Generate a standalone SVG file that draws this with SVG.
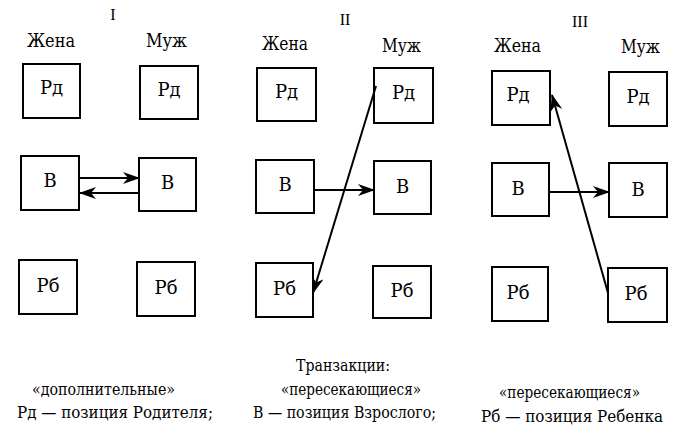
<svg xmlns="http://www.w3.org/2000/svg" width="684" height="444" viewBox="0 0 684 444">
<style>
  text { font-family: "Liberation Serif", "DejaVu Serif", "Times New Roman", serif; fill: #000; }
  .cy { font-family: "DejaVu Serif", "Liberation Serif", serif; }
  .box rect { fill: #fff; stroke: #000; stroke-width: 2; }
  .box text { font-size: 18px; text-anchor: middle; font-family: "DejaVu Serif", "Liberation Serif", serif; }
  .hdr { font-size: 18px; }
  .num { font-size: 16px; text-anchor: middle; }
  .cap { font-size: 16px; }
  .leg { font-size: 17px; }
  .conn line { stroke: #000; stroke-width: 2; fill: none; }
</style>
<defs>
  <marker id="ah" markerUnits="userSpaceOnUse" viewBox="0 0 17 12" markerWidth="17" markerHeight="12" refX="16" refY="6" orient="auto">
    <path d="M0,0 L17,6 L0,12 L5,6 z" fill="#000"/>
  </marker>
</defs>
<rect width="684" height="444" fill="#fff"/>

<!-- headings -->
<g id="headings">
  <text class="num" x="113" y="20">I</text>
  <text class="num" x="345" y="25">II</text>
  <text class="num" x="580" y="27">III</text>
  <text class="hdr cy" x="27" y="47" textLength="48" lengthAdjust="spacingAndGlyphs">Жена</text>
  <text class="hdr cy" x="146" y="47" textLength="41" lengthAdjust="spacingAndGlyphs">Муж</text>
  <text class="hdr cy" x="262" y="50" textLength="46" lengthAdjust="spacingAndGlyphs">Жена</text>
  <text class="hdr cy" x="382" y="52" textLength="39" lengthAdjust="spacingAndGlyphs">Муж</text>
  <text class="hdr cy" x="494" y="52" textLength="47" lengthAdjust="spacingAndGlyphs">Жена</text>
  <text class="hdr cy" x="621" y="53" textLength="39" lengthAdjust="spacingAndGlyphs">Муж</text>
</g>

<!-- Diagram I -->
<g id="I-wife-Rd" class="box"><rect x="23" y="64" width="57" height="54"/><text x="51.5" y="94">Рд</text></g>
<g id="I-husb-Rd" class="box"><rect x="140" y="66" width="58" height="53"/><text x="169" y="96">Рд</text></g>
<g id="I-wife-V" class="box"><rect x="21" y="156" width="58" height="54"/><text x="50" y="187">В</text></g>
<g id="I-husb-V" class="box"><rect x="139" y="158" width="57" height="53"/><text x="167.5" y="189">В</text></g>
<g id="I-wife-Rb" class="box"><rect x="19" y="260" width="58" height="54"/><text x="48" y="292">Рб</text></g>
<g id="I-husb-Rb" class="box"><rect x="137" y="262" width="58" height="54"/><text x="166" y="294">Рб</text></g>

<!-- Diagram II -->
<g id="II-wife-Rd" class="box"><rect x="257" y="68" width="59" height="53"/><text x="286.5" y="98">Рд</text></g>
<g id="II-husb-Rd" class="box"><rect x="374" y="68" width="59" height="55"/><text x="403.5" y="99">Рд</text></g>
<g id="II-wife-V" class="box"><rect x="256" y="160" width="58" height="53"/><text x="285" y="191">В</text></g>
<g id="II-husb-V" class="box"><rect x="374" y="161" width="57" height="53"/><text x="402.5" y="193">В</text></g>
<g id="II-wife-Rb" class="box"><rect x="256" y="263" width="57" height="54"/><text x="284.5" y="295">Рб</text></g>
<g id="II-husb-Rb" class="box"><rect x="373" y="266" width="58" height="52"/><text x="402" y="297">Рб</text></g>

<!-- Diagram III -->
<g id="III-wife-Rd" class="box"><rect x="492" y="71" width="58" height="54"/><text x="518" y="101">Рд</text></g>
<g id="III-husb-Rd" class="box"><rect x="609" y="72" width="58" height="54"/><text x="638" y="103">Рд</text></g>
<g id="III-wife-V" class="box"><rect x="492" y="163" width="57" height="53"/><text x="518" y="195">В</text></g>
<g id="III-husb-V" class="box"><rect x="609" y="163" width="58" height="54"/><text x="638" y="196">В</text></g>
<g id="III-wife-Rb" class="box"><rect x="492" y="267" width="56" height="54"/><text x="518" y="299">Рб</text></g>
<g id="III-husb-Rb" class="box"><rect x="608" y="268" width="59" height="54"/><text x="636" y="300">Рб</text></g>

<!-- connectors -->
<g id="connectors" class="conn">
  <line x1="80" y1="178" x2="139" y2="178" marker-end="url(#ah)"/>
  <line x1="139" y1="193" x2="80" y2="193" marker-end="url(#ah)"/>
  <line x1="314" y1="190" x2="374" y2="190" marker-end="url(#ah)"/>
  <line x1="376" y1="86" x2="313" y2="293" marker-end="url(#ah)"/>
  <line x1="549" y1="192" x2="609" y2="192" marker-end="url(#ah)"/>
  <line x1="608" y1="293" x2="552" y2="95" marker-end="url(#ah)"/>
</g>

<!-- captions -->
<g id="captions">
  <text class="cap cy" x="296" y="371" textLength="94" lengthAdjust="spacingAndGlyphs">Транзакции:</text>
  <text class="cap cy" x="32" y="395" textLength="143" lengthAdjust="spacingAndGlyphs">«дополнительные»</text>
  <text class="cap cy" x="281" y="395" textLength="140" lengthAdjust="spacingAndGlyphs">«пересекающиеся»</text>
  <text class="cap cy" x="499" y="398" textLength="141" lengthAdjust="spacingAndGlyphs">«пересекающиеся»</text>
  <text class="leg cy" x="17" y="418" textLength="196" lengthAdjust="spacingAndGlyphs">Рд — позиция Родителя;</text>
  <text class="leg cy" x="253" y="418" textLength="183" lengthAdjust="spacingAndGlyphs">В — позиция Взрослого;</text>
  <text class="leg cy" x="481" y="422" textLength="182" lengthAdjust="spacingAndGlyphs">Рб — позиция Ребенка</text>
</g>
</svg>
